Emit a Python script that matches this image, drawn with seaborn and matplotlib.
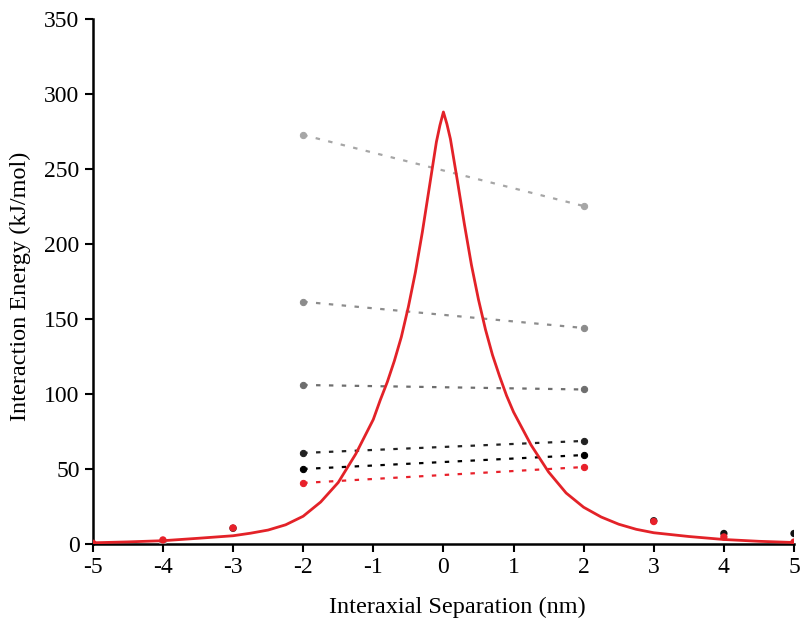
import numpy as np
import pandas as pd
import matplotlib
matplotlib.use("Agg")
import matplotlib.pyplot as plt
import seaborn as sns

# fitted curve
curve_x = [-5, -4.5, -4, -3.5, -3, -2.75, -2.5, -2.25, -2, -1.75, -1.5, -1.25,
           -1, -0.9, -0.8, -0.7, -0.6, -0.5, -0.4, -0.3, -0.2, -0.1, -0.05, 0,
           0.05, 0.1, 0.2, 0.3, 0.4, 0.5, 0.6, 0.7, 0.8, 0.9, 1,
           1.25, 1.5, 1.75, 2, 2.25, 2.5, 2.75, 3, 3.5, 4, 4.5, 5]
curve_y = [0.8, 1.4, 2.2, 3.8, 5.5, 7.2, 9.3, 12.8, 18.5, 28, 41, 60,
           83, 96, 108, 122, 138, 158, 181, 208, 238, 268, 279, 288,
           280, 270, 242, 213, 186, 163, 143, 126, 112, 99, 88,
           66, 48, 34, 24.5, 18, 13.2, 9.8, 7.5, 5, 3, 1.8, 1]

# dashed pairs at -2 and 2
pair_x = [-2, 2]
pair_light = [272.7, 225.3]
pair_mid = [161.5, 144]
pair_dark = [106, 103]
pair_black1 = [60.7, 68.7]
pair_black2 = [50, 59.3]
pair_red = [40.7, 51.3]

# loose points
gray_x = [-4]
gray_y = [0.7]
black_x = [-3, 3, 4, 5]
black_y = [10.5, 15.5, 7, 7]
red_x = [-5, -4, -3, 3, 4, 5]
red_y = [0.5, 2.7, 10.7, 15, 4.7, 1.3]

plt.rcParams['font.family'] = ['Liberation Serif', 'DejaVu Serif']
plt.rcParams['axes.unicode_minus'] = False

fig = plt.figure(figsize=(8, 6.22), dpi=100)
ax = fig.add_axes([0.116, 0.1254, 0.8765, 0.8441])

pairs = [(pair_light, "#a6a6a6"), (pair_mid, "#8c8c8c"), (pair_dark, "#6e6e6e"),
         (pair_black1, "#222222"), (pair_black2, "#000000"), (pair_red, "#e8202a")]
for vals, col in pairs:
    sns.lineplot(x=pair_x, y=vals, ax=ax, color=col, linewidth=1.6,
                 linestyle=(0, (2, 3.8)), marker="o", markersize=4.5,
                 markeredgecolor=col)

sns.scatterplot(x=gray_x, y=gray_y, ax=ax, color="#999999", s=28, edgecolor="none", zorder=3)
sns.scatterplot(x=black_x, y=black_y, ax=ax, color="#111111", s=28, edgecolor="none", zorder=3)
sns.scatterplot(x=red_x, y=red_y, ax=ax, color="#e8202a", s=28, edgecolor="none", zorder=4)

sns.lineplot(x=curve_x, y=curve_y, ax=ax, color="#e32228", linewidth=2.0, zorder=5)

ax.set_xlim(-5, 5)
ax.set_ylim(0, 350)
ax.set_xticks(range(-5, 6))
ax.set_yticks(range(0, 351, 50))
ax.spines['top'].set_visible(False)
ax.spines['right'].set_visible(False)
for s in ['left', 'bottom']:
    ax.spines[s].set_linewidth(1.8)
ax.tick_params(direction='out', length=6, width=1.5, labelsize=17)
ax.set_xlabel("Interaxial Separation (nm)", fontsize=17.5, labelpad=10)
ax.set_ylabel("Interaction Energy (kJ/mol)", fontsize=17.5, labelpad=8)
ax.xaxis.set_label_coords(0.52, -0.1)
ax.yaxis.set_label_coords(-0.088, 0.49)

fig.savefig("out.png", dpi=100)
